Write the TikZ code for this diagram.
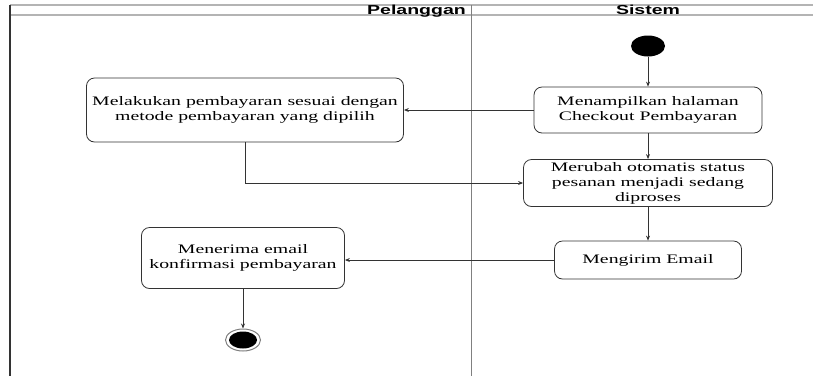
\documentclass[tikz,border=0pt]{standalone}
\usepackage{fontspec}
\setmainfont{Liberation Serif}[FakeStretch=1.52]
\setsansfont{Liberation Sans}[FakeStretch=1.5]
\usepackage{xcolor}
\usepackage{tikz}
\usetikzlibrary{shapes.geometric, arrows.meta, positioning, calc}
\definecolor{lane}{HTML}{B4B4B4}
\definecolor{ink}{HTML}{333333}

\tikzset{
  actbox/.style={draw=ink, line width=0.8pt, rounded corners=8pt, align=center,
    inner sep=2pt, font=\fontsize{13}{15}\selectfont},
  flow/.style={draw=ink, line width=0.8pt, -{Stealth[length=5pt, width=4pt]}},
  startnode/.style={ellipse, fill=black, minimum width=34pt, minimum height=21pt, inner sep=0pt},
  endnode/.style={ellipse, draw=gray, line width=1pt, minimum width=35pt, minimum height=22pt,
    inner sep=0pt, path picture={\fill[black] (path picture bounding box.center) ellipse (14pt and 8.5pt);}},
  lanehead/.style={font=\sffamily\bfseries\fontsize{13}{13}\selectfont, inner sep=0pt}
}

\begin{document}
\begin{tikzpicture}[x=1pt, y=-1pt]
  \useasboundingbox (0,0) rectangle (813,376);

  % swimlanes
  \draw[lane, line width=1.5pt] (10,5) -- (813,5);
  \draw[lane, line width=1.5pt] (10,15) -- (813,15);
  \draw[ink, line width=1.2pt] (10,5) -- (10,376);
  \draw[gray, line width=1pt] (471,5) -- (471,376);
  \node[lanehead, anchor=base east] (pelanggan) at (466,14) {Pelanggan};
  \node[lanehead, anchor=base] (sistem) at (648,14) {Sistem};

  \node[startnode] (mulai) at (648,46) {};
  \node[actbox, minimum width=228pt, minimum height=46pt] (tampil) at (648,110)
    {Menampilkan halaman\\Checkout Pembayaran};
  \node[actbox, minimum width=317pt, minimum height=64pt] (bayar) at (245,110)
    {Melakukan pembayaran sesuai dengan\\metode pembayaran yang dipilih};
  \node[actbox, minimum width=249pt, minimum height=47pt, inner ysep=1pt] (ubah) at (648,183)
    {Merubah otomatis status\\pesanan menjadi sedang\\diproses};
  \node[actbox, minimum width=187pt, minimum height=38pt] (kirim) at (648,260)
    {Mengirim Email};
  \node[actbox, minimum width=203pt, minimum height=61pt] (terima) at (243,258)
    {Menerima email\\konfirmasi pembayaran};
  \node[endnode] (akhir) at (243,340) {};

  \draw[flow] (mulai) -- (tampil);
  \draw[flow] (tampil) -- (bayar);
  \draw[flow] (tampil) -- (ubah);
  \draw[flow] (bayar.south) |- (ubah.west);
  \draw[flow] (ubah) -- (kirim);
  \draw[flow] (kirim.west) -- (kirim.west -| terima.east);
  \draw[flow] (terima) -- (akhir);
\end{tikzpicture}
\end{document}
